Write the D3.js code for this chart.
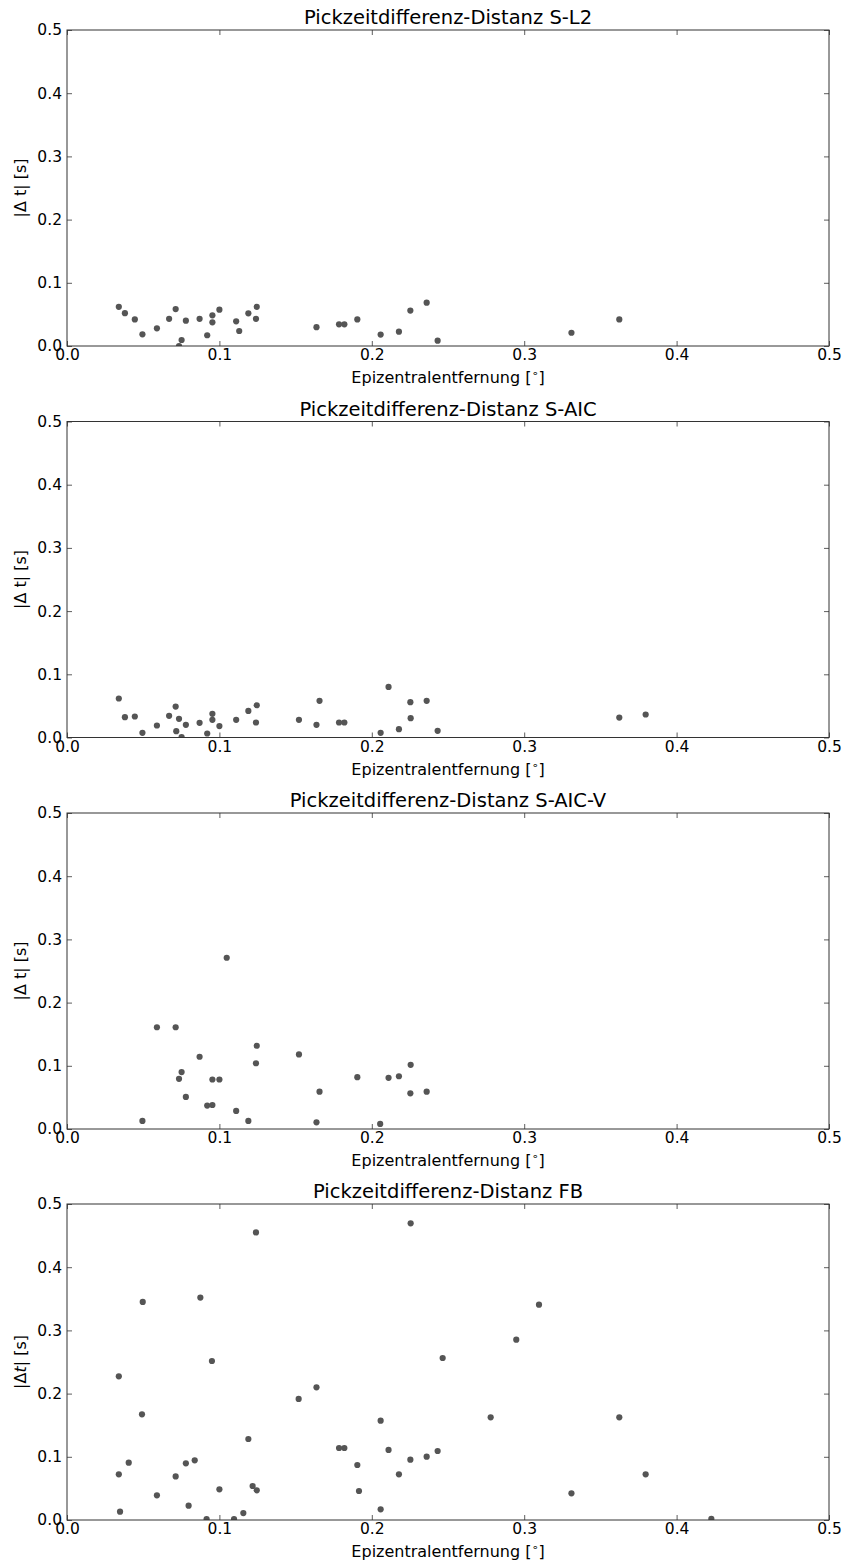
<!DOCTYPE html>
<html>
<head>
<meta charset="utf-8">
<script src="https://cdn.jsdelivr.net/npm/d3@7"></script>
<style>
  html, body { margin: 0; padding: 0; background: #fff; }
  svg { display: block; font-family: "DejaVu Sans", sans-serif; }
</style>
</head>
<body>
<svg id="fig" width="843" height="1562"></svg>
<script>
// Epicentral distance [deg] and absolute pick time difference [s] per method
const distL2 = [0.034,0.038,0.0445,0.0495,0.059,0.067,0.0713,0.0752,0.0735,0.078,0.087,0.092,0.0954,0.0954,0.100,0.111,0.113,0.119,0.1245,0.124,0.1637,0.1785,0.182,0.1905,0.2058,0.2178,0.2253,0.236,0.2432,0.331,0.3624];
const dtL2   = [0.062,0.052,0.042,0.0185,0.028,0.043,0.0585,0.0095,0.0,0.040,0.043,0.017,0.0485,0.0375,0.0575,0.039,0.0237,0.0517,0.062,0.043,0.0298,0.0343,0.0343,0.042,0.018,0.0226,0.056,0.0685,0.0084,0.021,0.042];

const distAIC = [0.034,0.038,0.0445,0.0495,0.059,0.067,0.0713,0.0735,0.0717,0.0752,0.078,0.087,0.092,0.0954,0.0954,0.100,0.111,0.119,0.1245,0.124,0.1522,0.1657,0.1637,0.1785,0.182,0.2058,0.211,0.2178,0.2253,0.2255,0.236,0.2432,0.3624,0.3797];
const dtAIC   = [0.0617,0.0322,0.0332,0.0074,0.019,0.0343,0.049,0.0295,0.010,0.0005,0.020,0.0232,0.0063,0.0375,0.028,0.018,0.028,0.042,0.051,0.0237,0.028,0.058,0.020,0.0237,0.0237,0.0074,0.080,0.0132,0.0559,0.0306,0.058,0.0106,0.0316,0.0364];

const distAICV = [0.1048,0.059,0.0713,0.1245,0.1522,0.087,0.124,0.0752,0.0735,0.0954,0.100,0.1905,0.078,0.1657,0.092,0.0954,0.111,0.0495,0.119,0.1637,0.2055,0.211,0.2178,0.2255,0.2253,0.236];
const dtAICV   = [0.271,0.161,0.161,0.1317,0.118,0.1143,0.104,0.090,0.0794,0.0783,0.0783,0.082,0.0508,0.059,0.037,0.038,0.0286,0.0127,0.0127,0.0105,0.008,0.081,0.0835,0.1016,0.0565,0.059];

const distFB = [0.124,0.0497,0.0875,0.0951,0.034,0.1637,0.152,0.0492,0.119,0.1785,0.182,0.1905,0.0405,0.078,0.0838,0.034,0.0713,0.059,0.100,0.1218,0.1245,0.0798,0.0348,0.1157,0.0916,0.1096,0.1916,0.2255,0.3097,0.2948,0.2465,0.2058,0.278,0.3624,0.211,0.2432,0.2253,0.236,0.2178,0.3797,0.331,0.2058,0.4228];
const dtFB   = [0.455,0.345,0.352,0.2516,0.2273,0.21,0.1915,0.1672,0.1282,0.1139,0.1139,0.087,0.0907,0.0897,0.0944,0.0723,0.069,0.039,0.0485,0.0538,0.047,0.0227,0.0132,0.011,0.0015,0.0015,0.0459,0.4694,0.3407,0.2853,0.2563,0.1571,0.1625,0.1625,0.1108,0.1092,0.0954,0.1002,0.0723,0.0723,0.0422,0.0169,0.002];

const titles = [
  "Pickzeitdifferenz-Distanz S-L2",
  "Pickzeitdifferenz-Distanz S-AIC",
  "Pickzeitdifferenz-Distanz S-AIC-V",
  "Pickzeitdifferenz-Distanz FB"
];
const xTicks = [0, 0.1, 0.2, 0.3, 0.4, 0.5];
const yTicks = [0, 0.1, 0.2, 0.3, 0.4, 0.5];
const xLabel = "Epizentralentfernung [";

const panels = [
  { title: titles[0], x: distL2,   y: dtL2,   italicT: false },
  { title: titles[1], x: distAIC,  y: dtAIC,  italicT: false },
  { title: titles[2], x: distAICV, y: dtAICV, italicT: false },
  { title: titles[3], x: distFB,   y: dtFB,   italicT: true }
];

const svg = d3.select("#fig");
const left = 67, right = 829, plotH = 316;
const tops = [30, 421.5, 813, 1204];
const fmt = d3.format(".1f");
const axisColor = "#333";

panels.forEach((p, i) => {
  const top = tops[i], bottom = top + plotH;
  const x = d3.scaleLinear().domain([0, 0.5]).range([left, right]);
  const y = d3.scaleLinear().domain([0, 0.5]).range([bottom, top]);
  const g = svg.append("g");

  // clip region = axes box
  const clipId = "clip" + i;
  svg.append("clipPath").attr("id", clipId)
    .append("rect").attr("x", left).attr("y", top)
    .attr("width", right - left).attr("height", plotH);

  // points
  g.append("g").attr("clip-path", `url(#${clipId})`)
    .selectAll("circle").data(p.x.map((d, k) => [d, p.y[k]]))
    .join("circle")
    .attr("cx", d => x(d[0])).attr("cy", d => y(d[1]))
    .attr("r", 3.1).attr("fill", "#555");

  // axes with inward ticks on all four sides
  const styleAxis = sel => {
    sel.select(".domain").remove();
    sel.selectAll(".tick line").attr("stroke", axisColor).attr("stroke-width", 0.8);
    sel.selectAll(".tick text").attr("fill", "#000").style("font-size", "15.5px")
      .style("font-family", "'DejaVu Sans', sans-serif");
  };
  g.append("g").attr("transform", `translate(0,${bottom})`)
    .call(d3.axisBottom(x).tickValues(xTicks).tickFormat(fmt).tickSizeInner(-5).tickSizeOuter(0).tickPadding(3))
    .call(styleAxis);
  g.append("g").attr("transform", `translate(0,${top})`)
    .call(d3.axisTop(x).tickValues(xTicks).tickFormat("").tickSizeInner(-5).tickSizeOuter(0))
    .call(styleAxis);
  g.append("g").attr("transform", `translate(${left},0)`)
    .call(d3.axisLeft(y).tickValues(yTicks).tickFormat(fmt).tickSizeInner(-5).tickSizeOuter(0).tickPadding(5))
    .call(styleAxis);
  g.append("g").attr("transform", `translate(${right},0)`)
    .call(d3.axisRight(y).tickValues(yTicks).tickFormat("").tickSizeInner(-5).tickSizeOuter(0))
    .call(styleAxis);

  // frame
  g.append("rect").attr("x", left).attr("y", top)
    .attr("width", right - left).attr("height", plotH)
    .attr("fill", "none").attr("stroke", axisColor).attr("stroke-width", 1);

  // title
  g.append("text").attr("x", (left + right) / 2).attr("y", top - 6)
    .attr("text-anchor", "middle").style("font-size", "19.5px").text(p.title);

  // x label with superscript degree
  const xl = g.append("text").attr("x", (left + right) / 2).attr("y", bottom + 37)
    .attr("text-anchor", "middle").style("font-size", "16px");
  xl.append("tspan").text(xLabel);
  xl.append("tspan").attr("dy", -6).style("font-size", "11px").text("\u2218");
  xl.append("tspan").attr("dy", 6).text("]");

  // y label
  const yl = g.append("text")
    .attr("transform", `translate(26,${(top + bottom) / 2}) rotate(-90)`)
    .attr("text-anchor", "middle").style("font-size", "16px");
  if (p.italicT) {
    yl.append("tspan").text("|\u0394");
    yl.append("tspan").style("font-style", "italic").text("t");
    yl.append("tspan").text("| [s]");
  } else {
    yl.text("|\u0394 t| [s]");
  }
});
</script>
</body>
</html>
